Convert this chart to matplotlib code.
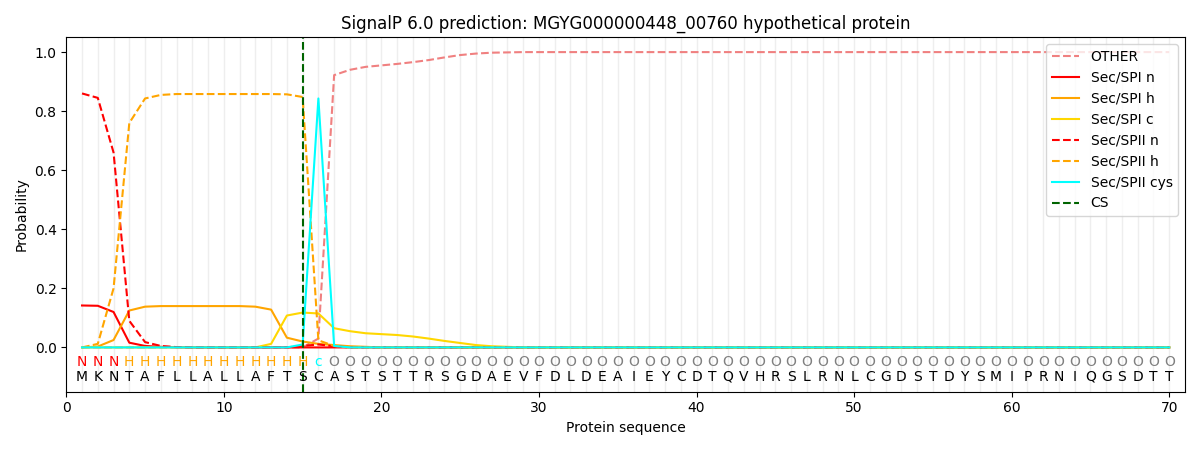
import matplotlib
matplotlib.use("Agg")
import matplotlib.pyplot as plt
import numpy as np

# Secuencia y etiquetas de la predicción
secuencia = list("MKNTAFLLALLAFTSCASTSTTRSGDAEVFDLDEAIEYCDTQVHRSLRNLCGDSTDYSMIPRNIQGSDTT")
etiquetas = list("NNN" + "H" * 12 + "c" + "O" * 54)
sitio_corte = 15

# Probabilidades por posición
other = [0.0] * 15 + [0.03, 0.922, 0.94, 0.95, 0.955, 0.96, 0.966, 0.973, 0.982, 0.99,
                      0.995, 0.998, 0.999] + [1.0] * 42
sec_spi_n = [0.142, 0.141, 0.12, 0.016, 0.005, 0.002, 0.001] + [0.0] * 63
sec_spi_h = [0.0, 0.003, 0.025, 0.125, 0.138, 0.14, 0.14, 0.14, 0.14, 0.14, 0.14, 0.138,
             0.128, 0.033, 0.02, 0.012, 0.008, 0.004, 0.002] + [0.0] * 51
sec_spi_c = [0.0] * 12 + [0.012, 0.108, 0.118, 0.115, 0.065, 0.055, 0.048, 0.045, 0.042,
                          0.037, 0.03, 0.022, 0.015, 0.008, 0.004, 0.002] + [0.0] * 42
sec_spii_n = [0.86, 0.845, 0.66, 0.09, 0.018, 0.005, 0.001] + [0.0] * 7 + [0.005, 0.01, 0.004] + [0.0] * 53
sec_spii_h = [0.0, 0.012, 0.2, 0.76, 0.843, 0.855, 0.858, 0.858, 0.858, 0.858, 0.858,
              0.858, 0.858, 0.857, 0.848, 0.024, 0.005] + [0.0] * 53
sec_spii_cys = [0.0] * 14 + [0.01, 0.843, 0.005] + [0.0] * 53

colores_etiqueta = {"N": "red", "H": "orange", "c": "cyan", "O": "gray"}

posiciones = np.arange(1, len(secuencia) + 1)

fig, ax = plt.subplots(figsize=(12, 4.5), dpi=100)

#Líneas verticales de fondo en cada posición
for p in posiciones:
    ax.axvline(p, color="#eeeeee", linewidth=1, zorder=0)

ax.plot(posiciones, other, color="lightcoral", linestyle="--", label="OTHER")
ax.plot(posiciones, sec_spi_n, color="red", label="Sec/SPI n")
ax.plot(posiciones, sec_spi_h, color="orange", label="Sec/SPI h")
ax.plot(posiciones, sec_spi_c, color="gold", label="Sec/SPI c")
ax.plot(posiciones, sec_spii_n, color="red", linestyle="--", label="Sec/SPII n")
ax.plot(posiciones, sec_spii_h, color="orange", linestyle="--", label="Sec/SPII h")
ax.plot(posiciones, sec_spii_cys, color="cyan", label="Sec/SPII cys")
ax.axvline(sitio_corte, color="darkgreen", linestyle="--", label="CS")

#Letras de la secuencia y de la región predicha
for p, aa, et in zip(posiciones, secuencia, etiquetas):
    ax.text(p, -0.1, aa, ha="center", va="center", fontsize=10)
    ax.text(p, -0.05, et, ha="center", va="center", fontsize=10, color=colores_etiqueta[et])

ax.set_xlim(0, 71)
ax.set_ylim(-0.15, 1.05)
ax.set_xlabel("Protein sequence")
ax.set_ylabel("Probability")
ax.set_title("SignalP 6.0 prediction: MGYG000000448_00760 hypothetical protein")
ax.legend(loc="upper right")

plt.tight_layout()
plt.savefig("out.png")
